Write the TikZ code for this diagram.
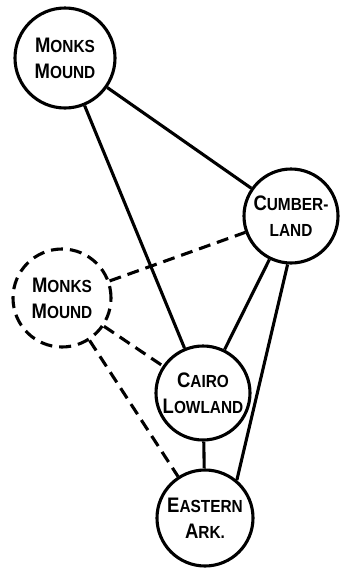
\documentclass[tikz,border=0pt]{standalone}
\usepackage{fontspec}
\setmainfont{Liberation Sans}
\newfontfamily\handfont[FakeStretch=0.88]{Liberation Sans}
\newcommand\initial[2]{{\fontsize{21}{26}\selectfont #1}#2}
\begin{document}
\begin{tikzpicture}[x=1pt,y=-1pt,line width=3.1pt,
	site/.style={draw,circle,inner sep=0pt,align=center,font=\handfont\fontsize{17.5}{26}\selectfont\bfseries},
	ghost/.style={site,dash pattern=on 12pt off 7pt},
	ghostlink/.style={dash pattern=on 12pt off 7pt}]
	\useasboundingbox (0,0) rectangle (341,568);
	\node[site,minimum size=100pt] (monks) at (65,58) {\initial{M}{ONKS}\\\initial{M}{OUND}};
	\node[site,minimum size=94pt] (cumb) at (291,216) {\initial{C}{UMBER-}\\LAND};
	\node[ghost,minimum size=98pt] (ghostmonks) at (62,298) {\initial{M}{ONKS}\\\initial{M}{OUND}};
	\node[site,minimum size=94pt] (cairo) at (203,393) {\initial{C}{AIRO}\\\initial{L}{OWLAND}};
	\node[site,minimum size=96pt] (east) at (205,518) {\initial{E}{ASTERN}\\\initial{A}{RK.}};
	\draw (monks) -- (cumb);
	\draw (monks) -- (cairo);
	\draw (cumb) -- (cairo);
	\draw (cumb.-94) -- (east.50);
	\draw (cairo) -- (east);
	\draw[ghostlink] (ghostmonks) -- (cumb);
	\draw[ghostlink] (ghostmonks) -- (cairo);
	\draw[ghostlink] (ghostmonks) -- (east);
\end{tikzpicture}
\end{document}
